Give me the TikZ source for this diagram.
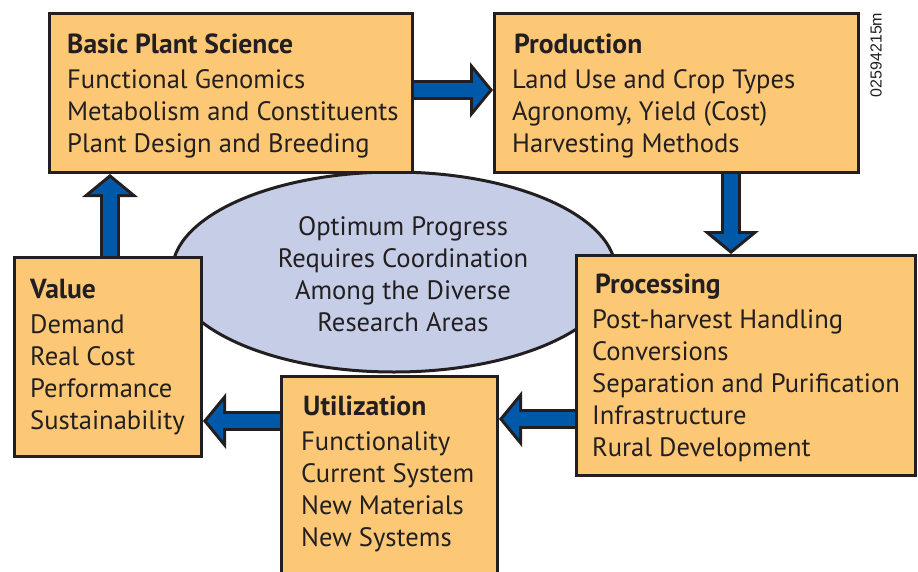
\documentclass[tikz,border=0pt]{standalone}
\usepackage{fontspec}
\setmainfont{PT Sans}
\newfontfamily\codefont{Liberation Sans}
\usetikzlibrary{arrows.meta,shapes.geometric}

\definecolor{panelorange}{HTML}{FCC876}
\definecolor{flowblue}{HTML}{0059A8}
\definecolor{hubblue}{HTML}{C6CDE7}
\definecolor{ink}{HTML}{231F20}

\begin{document}
\begin{tikzpicture}[x=1pt,y=-1pt]
    \tikzstyle{panel}=[
      rectangle,
      draw=ink,
      line width=3pt,
      fill=panelorange,
      anchor=north west,
      inner sep=0pt,
    ]
    \tikzstyle{hub}=[
      ellipse,
      draw=ink,
      line width=3pt,
      fill=hubblue,
      inner sep=0pt,
    ]
    \tikzstyle{item}=[anchor=base west, inner sep=0pt, text=ink, font=\fontsize{26.6}{32}\selectfont]
    \tikzstyle{head}=[item, font=\fontsize{27.6}{32}\selectfont\bfseries]
    \tikzstyle{hubtext}=[item, anchor=base]
    \tikzstyle{flowout}=[line width=20pt, draw=ink, -{Triangle[width=56pt,length=23pt,line width=0pt]}]
    \tikzstyle{flowin}=[line width=14pt, draw=flowblue, shorten >=4pt, -{Triangle[width=39pt,length=16pt,line width=0pt]}]

    \path[use as bounding box, clip] (0,0) rectangle (918,571);
    \fill[white] (0,0) rectangle (918,571);

    % centre oval
    \node[hub, minimum width=444pt, minimum height=200pt] (hub) at (394,272) {};
    \node[hubtext] (hub1) at (403,235) {Optimum Progress};
    \node[hubtext] (hub2) at (403,267) {Requires Coordination};
    \node[hubtext] (hub3) at (403,299) {Among the Diverse};
    \node[hubtext] (hub4) at (403,331) {Research Areas};

    % panels
    \node[panel, minimum width=363pt, minimum height=159pt] (basic) at (48,12) {};
    \node[panel, minimum width=364pt, minimum height=159pt] (prod) at (493,12) {};
    \node[panel, minimum width=339pt, minimum height=220pt] (proc) at (575,254) {};
    \node[panel, minimum width=216pt, minimum height=230pt] (util) at (280,375) {};
    \node[panel, minimum width=187pt, minimum height=199pt] (value) at (13,256) {};

    \node[head] (basic0) at (67,53) {Basic Plant Science};
    \node[item] (basic1) at (67,88) {Functional Genomics};
    \node[item] (basic2) at (67,120) {Metabolism and Constituents};
    \node[item] (basic3) at (67,152) {Plant Design and Breeding};

    \node[head] (prod0) at (514,53) {Production};
    \node[item] (prod1) at (512,88) {Land Use and Crop Types};
    \node[item] (prod2) at (512,120) {Agronomy, Yield (Cost)};
    \node[item] (prod3) at (512,152) {Harvesting Methods};

    \node[head] (proc0) at (595,293) {Processing};
    \node[item] (proc1) at (592,328) {Post-harvest Handling};
    \node[item] (proc2) at (592,360) {Conversions};
    \node[item] (proc3) at (592,392) {Separation and Purification};
    \node[item] (proc4) at (592,424) {Infrastructure};
    \node[item] (proc5) at (592,456) {Rural Development};

    \node[head] (util0) at (303,415) {Utilization};
    \node[item] (util1) at (301,450) {Functionality};
    \node[item] (util2) at (301,482) {Current System};
    \node[item] (util3) at (301,514) {New Materials};
    \node[item] (util4) at (301,546) {New Systems};

    \node[head] (value0) at (30,298) {Value};
    \node[item] (value1) at (30,333) {Demand};
    \node[item] (value2) at (30,365) {Real Cost};
    \node[item] (value3) at (30,397) {Performance};
    \node[item] (value4) at (30,429) {Sustainability};

    \node[rotate=90, inner sep=0pt, text=ink, font=\fontsize{16}{16}\selectfont\codefont] (code) at (876,55) {02594215m};

    % block arrows round the cycle
    \coordinate (upfoot) at ([xshift=2pt]value.north);
    \coordinate (rightfoot) at ([yshift=3pt]basic.east);
    \coordinate (downfoot) at ([xshift=54.5pt]prod.south);
    \coordinate (leftfoot) at ([yshift=-53.5pt]proc.west);
    \coordinate (valuein) at ([yshift=-64pt]value.east);

    \draw[flowout] (upfoot) -- (upfoot |- basic.south);
    \draw[flowin] (upfoot) -- (upfoot |- basic.south);
    \draw[flowout] (rightfoot) -- (rightfoot -| prod.west);
    \draw[flowin] (rightfoot) -- (rightfoot -| prod.west);
    \draw[flowout] (downfoot) -- (downfoot |- proc.north);
    \draw[flowin] (downfoot) -- (downfoot |- proc.north);
    \draw[flowout] (leftfoot) -- (leftfoot -| util.east);
    \draw[flowin] (leftfoot) -- (leftfoot -| util.east);
    \draw[flowout] (util.west |- valuein) -- (valuein);
    \draw[flowin] (util.west |- valuein) -- (valuein);
\end{tikzpicture}
\end{document}
